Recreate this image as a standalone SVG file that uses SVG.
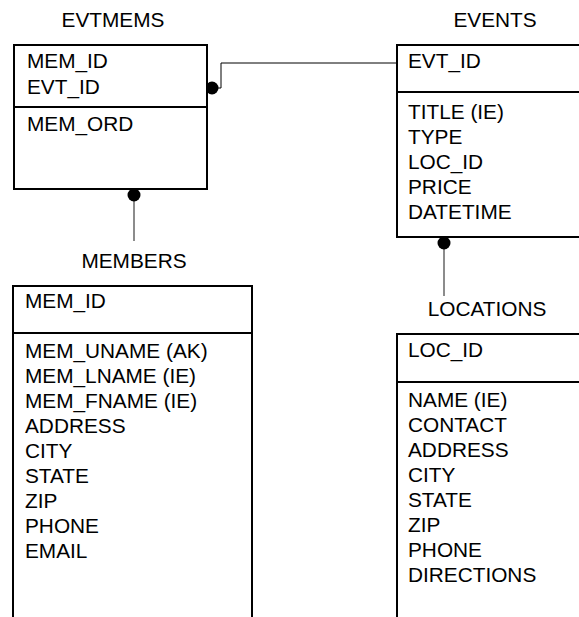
<svg xmlns="http://www.w3.org/2000/svg" width="579" height="617" viewBox="0 0 579 617">
<style>
text{font-family:"Liberation Sans",Arial,sans-serif;font-size:20.8px;fill:#000}
.title{text-anchor:middle}
.box{fill:#fff;stroke:#000;stroke-width:2}
.div{stroke:#000;stroke-width:2}
.rel{fill:none;stroke:#000;stroke-width:1}
.relg{fill:none;stroke:#666;stroke-width:1.5}
.dot{fill:#000}
</style>
<rect width="579" height="617" fill="#fff"/>
<g id="connectors">
<polyline class="rel" points="212,88 221,88 221,63 397,63"/>
<circle class="dot" cx="212" cy="88" r="6.5"/>
<line class="relg" x1="134" y1="195" x2="134" y2="241"/>
<circle class="dot" cx="134" cy="195" r="6.5"/>
<line class="relg" x1="444" y1="243" x2="444" y2="296"/>
<circle class="dot" cx="444" cy="243" r="6.5"/>
</g>
<g id="evtmems">
<text class="title" x="113" y="27">EVTMEMS</text>
<rect class="box" x="14" y="45" width="193" height="144"/>
<line class="div" x1="14" y1="107" x2="207" y2="107"/>
<text x="27" y="68">MEM_ID</text>
<text x="27" y="94">EVT_ID</text>
<text x="27" y="131">MEM_ORD</text>
</g>
<g id="events">
<text class="title" x="495" y="27">EVENTS</text>
<path class="box" d="M580,45 H397 V237 H580"/>
<line class="div" x1="397" y1="92" x2="580" y2="92"/>
<text x="408" y="68">EVT_ID</text>
<text x="408" y="119">TITLE (IE)</text>
<text x="408" y="144">TYPE</text>
<text x="408" y="169">LOC_ID</text>
<text x="408" y="194">PRICE</text>
<text x="408" y="219">DATETIME</text>
</g>
<g id="members">
<text class="title" x="134" y="268">MEMBERS</text>
<path class="box" d="M13,620 V286 H252 V620"/>
<line class="div" x1="13" y1="333" x2="252" y2="333"/>
<text x="25" y="308">MEM_ID</text>
<text x="25" y="358">MEM_UNAME (AK)</text>
<text x="25" y="383">MEM_LNAME (IE)</text>
<text x="25" y="408">MEM_FNAME (IE)</text>
<text x="25" y="433">ADDRESS</text>
<text x="25" y="458">CITY</text>
<text x="25" y="483">STATE</text>
<text x="25" y="508">ZIP</text>
<text x="25" y="533">PHONE</text>
<text x="25" y="558">EMAIL</text>
</g>
<g id="locations">
<text class="title" x="487" y="316">LOCATIONS</text>
<path class="box" d="M580,334 H397 V620"/>
<line class="div" x1="397" y1="382" x2="580" y2="382"/>
<text x="408" y="357">LOC_ID</text>
<text x="408" y="407">NAME (IE)</text>
<text x="408" y="432">CONTACT</text>
<text x="408" y="457">ADDRESS</text>
<text x="408" y="482">CITY</text>
<text x="408" y="507">STATE</text>
<text x="408" y="532">ZIP</text>
<text x="408" y="557">PHONE</text>
<text x="408" y="582">DIRECTIONS</text>
</g>
</svg>
